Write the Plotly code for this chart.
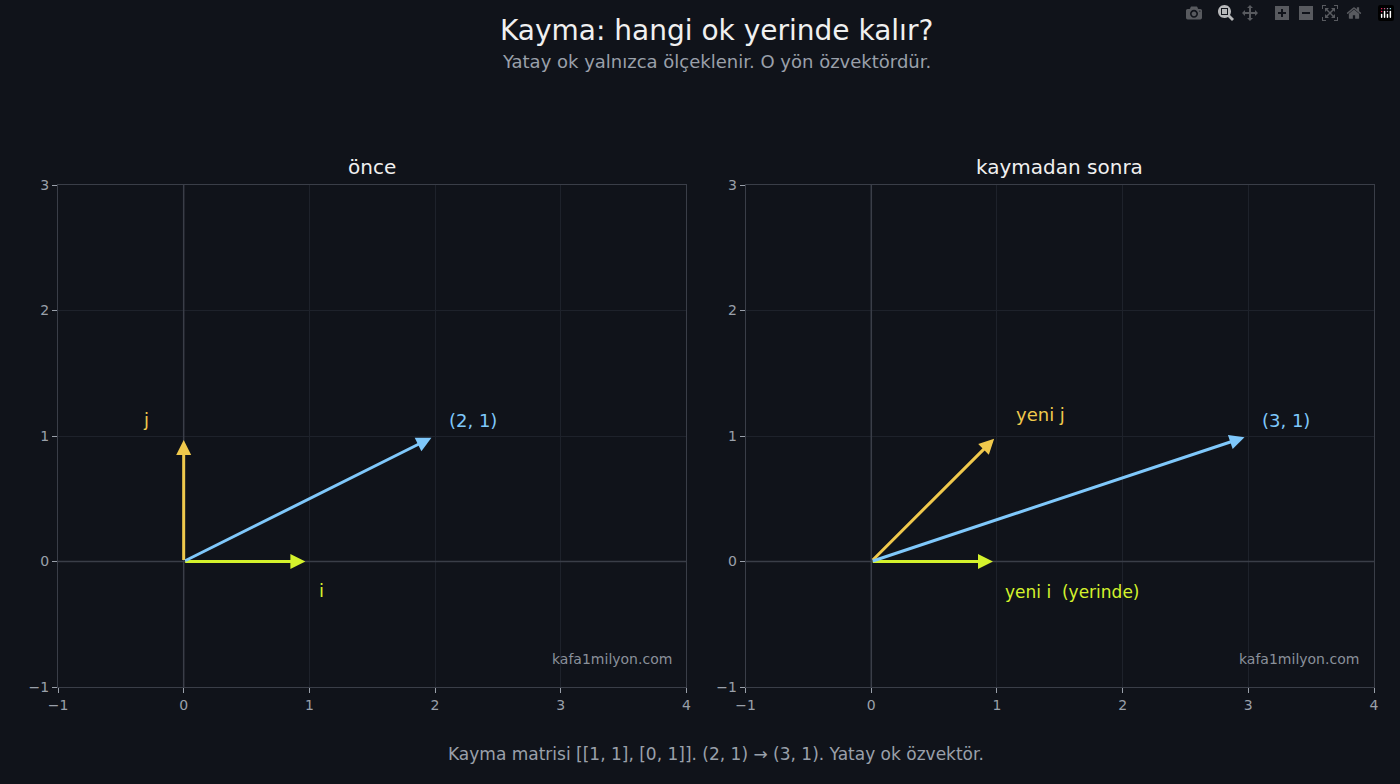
import plotly.graph_objects as go
from plotly.subplots import make_subplots

# vectors (start -> end) per panel
before_vecs = [(0, 0, 1, 0), (0, 0, 0, 1), (0, 0, 2, 1)]
after_vecs = [(0, 0, 1, 0), (0, 0, 1, 1), (0, 0, 3, 1)]
colors = ["#d4f22c", "#f0c94c", "#7fc8fb"]
before_labels = [("i", 1.1, -0.23), ("j", -0.3, 1.13), ("(2, 1)", 2.3, 1.12)]
after_labels = [("yeni i  (yerinde)", 1.6, -0.24), ("yeni j", 1.35, 1.17), ("(3, 1)", 3.3, 1.12)]

bg = "#10131a"
grid = "#1e222b"
axcol = "#3a3e48"
txt = "#9aa0aa"

fig = make_subplots(rows=1, cols=2, subplot_titles=("önce", "kaymadan sonra"),
                    horizontal_spacing=0.045)

for col, vecs, labels in [(1, before_vecs, before_labels), (2, after_vecs, after_labels)]:
    xr = "x" if col == 1 else "x2"
    yr = "y" if col == 1 else "y2"
    # zero axes
    fig.add_trace(go.Scatter(x=[-1, 4], y=[0, 0], mode="lines", line=dict(color=axcol, width=1.5),
                             hoverinfo="skip", showlegend=False), row=1, col=col)
    fig.add_trace(go.Scatter(x=[0, 0], y=[-1, 3], mode="lines", line=dict(color=axcol, width=1.5),
                             hoverinfo="skip", showlegend=False), row=1, col=col)
    for (x0, y0, x1, y1), c in zip(vecs, colors):
        fig.add_annotation(x=x1, y=y1, ax=x0, ay=y0, xref=xr, yref=yr, axref=xr, ayref=yr,
                           showarrow=True, arrowhead=2, arrowsize=1, arrowwidth=3,
                           arrowcolor=c, standoff=4, text="")
    for (t, lx, ly), c in zip(labels, colors):
        fig.add_annotation(x=lx, y=ly, xref=xr, yref=yr, text=t, showarrow=False,
                           font=dict(color=c, size=18 if len(t) < 8 else 17))
    fig.add_annotation(x=3.9, y=-0.78, xref=xr, yref=yr, text="kafa1milyon.com", showarrow=False,
                       xanchor="right", font=dict(color="#8a909a", size=14))

for i in (1, 2):
    fig.update_xaxes(range=[-1, 4], dtick=1, showgrid=True, gridcolor=grid, zeroline=False,
                     showline=True, linecolor=axcol, mirror=True, ticks="outside",
                     tickcolor=txt, tickfont=dict(color=txt, size=14), row=1, col=i)
    fig.update_yaxes(range=[-1, 3], dtick=1, showgrid=True, gridcolor=grid, zeroline=False,
                     showline=True, linecolor=axcol, mirror=True, ticks="outside",
                     tickcolor=txt, tickfont=dict(color=txt, size=14), row=1, col=i)

for a in fig.layout.annotations[:2]:
    a.font = dict(color="#f0f0f0", size=20)
    a.yshift = 4

fig.update_layout(
    width=1400, height=784, paper_bgcolor=bg, plot_bgcolor=bg,
    font=dict(family="DejaVu Sans", color=txt),
    margin=dict(l=58, r=26, t=185, b=97),
)
fig.add_annotation(x=0.5, y=30, xref="paper", yref="paper", yanchor="middle", showarrow=False,
                   text="Kayma: hangi ok yerinde kalır?", font=dict(color="#f0f0f0", size=28))
fig.layout.annotations[-1].update(y=1.0, yshift=155)
fig.add_annotation(x=0.5, y=1.0, yshift=124, xref="paper", yref="paper", yanchor="middle",
                   showarrow=False, text="Yatay ok yalnızca ölçeklenir. O yön özvektördür.",
                   font=dict(color=txt, size=18))
fig.add_annotation(x=0.5, y=0, yshift=-67, xref="paper", yref="paper", yanchor="middle",
                   showarrow=False,
                   text="Kayma matrisi [[1, 1], [0, 1]]. (2, 1) → (3, 1). Yatay ok özvektör.",
                   font=dict(color=txt, size=17))

fig.write_html("out.html",
               post_script="document.body.style.margin='0';document.body.style.background='#10131a';")
